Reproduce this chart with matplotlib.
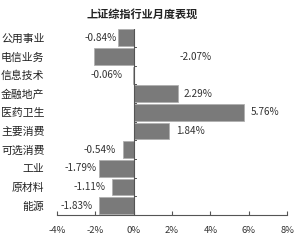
import matplotlib
matplotlib.use("Agg")
import matplotlib.pyplot as plt

plt.rcParams['font.family'] = ['Noto Sans CJK SC', 'DejaVu Sans']

categories = ["公用事业", "电信业务", "信息技术", "金融地产", "医药卫生",
              "主要消费", "可选消费", "工业", "原材料", "能源"]
values = [-0.84, -2.07, -0.06, 2.29, 5.76, 1.84, -0.54, -1.79, -1.11, -1.83]
labels = ["-0.84%", "-2.07%", "-0.06%", "2.29%", "5.76%",
          "1.84%", "-0.54%", "-1.79%", "-1.11%", "-1.83%"]
xticks = [-4, -2, 0, 2, 4, 6, 8]
xticklabels = ["-4%", "-2%", "0%", "2%", "4%", "6%", "8%"]
title = "上证综指行业月度表现"

fig = plt.figure(figsize=(3.0, 2.42), dpi=100)
ax = fig.add_axes([0.19, 0.112, 0.767, 0.77])

n = len(categories)
ypos = list(range(n))
ax.barh(ypos, values, height=0.9, color="#7a7a7a", edgecolor="#b0b0b0", linewidth=0.6, zorder=2)
ax.set_ylim(n - 0.5, -0.5)
ax.set_xlim(-4, 8)

# label placement (x position in data units, alignment)
label_x = [-0.89, 2.4, -0.6, 2.6, 6.1, 2.2, -0.94, -1.93, -1.46, -2.14]
label_ha = ["right", "left", "right", "left", "left", "left", "right", "right", "right", "right"]
for y, lx, ha, t in zip(ypos, label_x, label_ha, labels):
    ax.text(lx, y, t, ha=ha, va="center", fontsize=7.2, color="#333333")

ax.axvline(0, color="#555555", linewidth=0.8, zorder=3)
for b in range(n - 1):
    ax.plot([0, 0.12], [b + 0.5, b + 0.5], color="#555555", linewidth=0.7, zorder=3)

for s in ["top", "right", "left"]:
    ax.spines[s].set_visible(False)
ax.spines["bottom"].set_color("#555555")
ax.spines["bottom"].set_linewidth(0.8)

ax.set_yticks(ypos)
ax.set_yticklabels(categories, fontsize=7.8, color="#222222")
ax.tick_params(axis="y", length=0, pad=9)

ax.set_xticks(xticks)
ax.set_xticklabels(xticklabels, fontsize=6.8, color="#333333")
ax.tick_params(axis="x", direction="in", length=3, color="#555555", pad=8)

fig.text(0.473, 0.94, title, ha="center", va="center", fontsize=8, fontweight="bold", color="#222222")

fig.savefig("out.png", dpi=100, facecolor="white")
